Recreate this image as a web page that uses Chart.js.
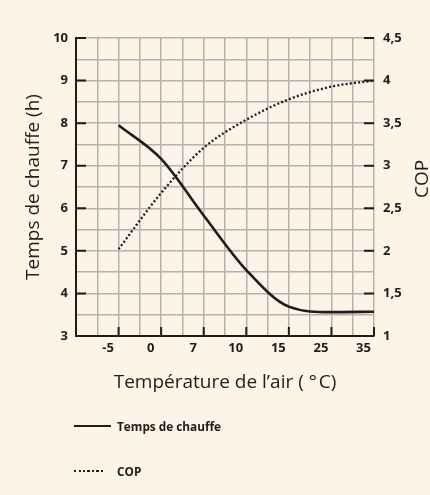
<!DOCTYPE html>
<html lang="fr">
<head>
<meta charset="utf-8">
<title>Temps de chauffe et COP</title>
<script src="https://cdn.jsdelivr.net/npm/chart.js@4"></script>
<style>
  html, body { margin: 0; padding: 0; background: #fdf3e6; }
  #wrap { position: relative; width: 430px; height: 495px; }
  #box { position: absolute; left: 0; top: 0; width: 430px; height: 400px; }
  #legend { position: absolute; left: 0; top: 0; width: 430px; height: 495px; pointer-events: none; }
  .leg-item { position: absolute; left: 74px; height: 16px; display: flex; align-items: center;
              font: bold 11.8px "Open Sans", sans-serif; color: #1d1d1b; }
  .leg-line { height: 2.5px; margin-right: 6px; }
</style>
</head>
<body>
<div id="wrap">
  <div id="box"><canvas id="chart"></canvas></div>
  <div id="legend"></div>
</div>
<script>
// données
const temperatures = ['-5', '0', '7', '10', '15', '25', '35'];
const tempsChauffe = [7.95, 7.16, 5.83, 4.55, 3.69, 3.56, 3.57];
const cop = [2.02, 2.68, 3.21, 3.54, 3.78, 3.93, 4.0];

const xTitle = 'Température de l’air ( °\u200aC)';
const yTitle = 'Temps de chauffe (h)';
const y1Title = 'COP';

const ink = '#1d1d1b';
const gridGray = '#b2b2b2';

Chart.defaults.font.family = '"Open Sans", sans-serif';
Chart.defaults.color = ink;

// petits traits de graduation tournés vers l'intérieur
const innerTicks = {
    id: 'innerTicks',
    beforeDatasetsDraw(chart) {
        const { ctx, chartArea: a, scales } = chart;
        ctx.save();
        ctx.strokeStyle = ink;
        ctx.lineWidth = 2;
        ctx.beginPath();
        temperatures.forEach((t, i) => {
            const px = scales.x.getPixelForValue(i);
            ctx.moveTo(px, a.bottom);
            ctx.lineTo(px, a.bottom - 9);
        });
        for (let v = 3; v <= 10; v++) {
            const py = scales.y.getPixelForValue(v);
            ctx.moveTo(a.left, py);
            ctx.lineTo(a.left + 10, py);
        }
        for (let v = 1.5; v <= 4.5; v += 0.5) {
            const py = scales.y1.getPixelForValue(v);
            ctx.moveTo(a.right, py);
            ctx.lineTo(a.right - 10, py);
        }
        ctx.stroke();
        ctx.restore();
    },
    afterDraw(chart) {
        // titre de l'axe droit, lu de bas en haut comme sur l'original
        const { ctx, chartArea: a } = chart;
        ctx.save();
        ctx.translate(423, (a.top + a.bottom) / 2 - 8);
        ctx.rotate(-Math.PI / 2);
        ctx.font = '19px "Open Sans", sans-serif';
        ctx.fillStyle = ink;
        ctx.textAlign = 'center';
        ctx.textBaseline = 'middle';
        ctx.fillText(y1Title, 0, 0);
        ctx.restore();
    }
};

const chart = new Chart(document.getElementById('chart'), {
    type: 'line',
    data: {
        datasets: [
            {
                label: 'Temps de chauffe',
                data: tempsChauffe.map((v, i) => ({ x: i, y: v })),
                yAxisID: 'y',
                borderColor: ink,
                borderWidth: 2.6,
                pointRadius: 0,
                cubicInterpolationMode: 'monotone'
            },
            {
                label: 'COP',
                data: cop.map((v, i) => ({ x: i, y: v })),
                yAxisID: 'y1',
                borderColor: ink,
                borderWidth: 2.3,
                borderDash: [2, 2.2],
                pointRadius: 0,
                cubicInterpolationMode: 'monotone'
            }
        ]
    },
    options: {
        responsive: true,
        maintainAspectRatio: false,
        animation: false,
        layout: { padding: { top: 38, left: 0, right: 0, bottom: 0 } },
        plugins: { legend: { display: false }, tooltip: { enabled: false } },
        scales: {
            x: {
                type: 'linear',
                min: -1,
                max: temperatures.length - 1,
                afterFit: s => { s.height = 64; },
                grid: { color: gridGray, lineWidth: 1.5, drawTicks: false },
                border: { color: ink, width: 2 },
                ticks: {
                    stepSize: 0.5,
                    autoSkip: false,
                    maxRotation: 0,
                    padding: 4,
                    labelOffset: -10.5,
                    font: { size: 13, weight: 'bold' },
                    callback: v => (Number.isInteger(v) && v >= 0 ? temperatures[v] : '')
                },
                title: {
                    display: true,
                    text: xTitle,
                    font: { size: 19 },
                    padding: { top: 0, bottom: 6 }
                }
            },
            y: {
                position: 'left',
                min: 3,
                max: 10,
                afterFit: s => { s.width = 76; },
                grid: { color: gridGray, lineWidth: 1.5, drawTicks: false },
                border: { color: ink, width: 2 },
                ticks: {
                    stepSize: 0.5,
                    padding: 8,
                    font: { size: 13, weight: 'bold' },
                    callback: v => (Number.isInteger(v) ? v : '')
                },
                title: {
                    display: true,
                    text: yTitle,
                    font: { size: 19 },
                    padding: { top: 22, bottom: 0 }
                }
            },
            y1: {
                position: 'right',
                min: 1,
                max: 4.5,
                afterFit: s => { s.width = 56; },
                grid: { display: false, drawTicks: false },
                border: { display: false },
                ticks: {
                    stepSize: 0.5,
                    padding: 9,
                    font: { size: 13, weight: 'bold' },
                    callback: v => String(v).replace('.', ',')
                }
            }
        }
    },
    plugins: [innerTicks]
});

// légende en HTML, deux lignes sous le graphique
const legend = document.getElementById('legend');
const rowsY = [426, 471];
chart.data.datasets.forEach((ds, i) => {
    const item = document.createElement('div');
    item.className = 'leg-item';
    item.style.top = (rowsY[i] - 8) + 'px';
    const line = document.createElement('span');
    line.className = 'leg-line';
    if (ds.borderDash) {
        line.style.width = '30px';
        line.style.marginRight = '13px';
        line.style.background = 'repeating-linear-gradient(to right, ' + ink + ' 0 2px, transparent 2px 4.5px)';
    } else {
        line.style.width = '37px';
        line.style.background = ink;
    }
    const text = document.createElement('span');
    text.textContent = ds.label;
    item.appendChild(line);
    item.appendChild(text);
    legend.appendChild(item);
});
</script>
</body>
</html>
